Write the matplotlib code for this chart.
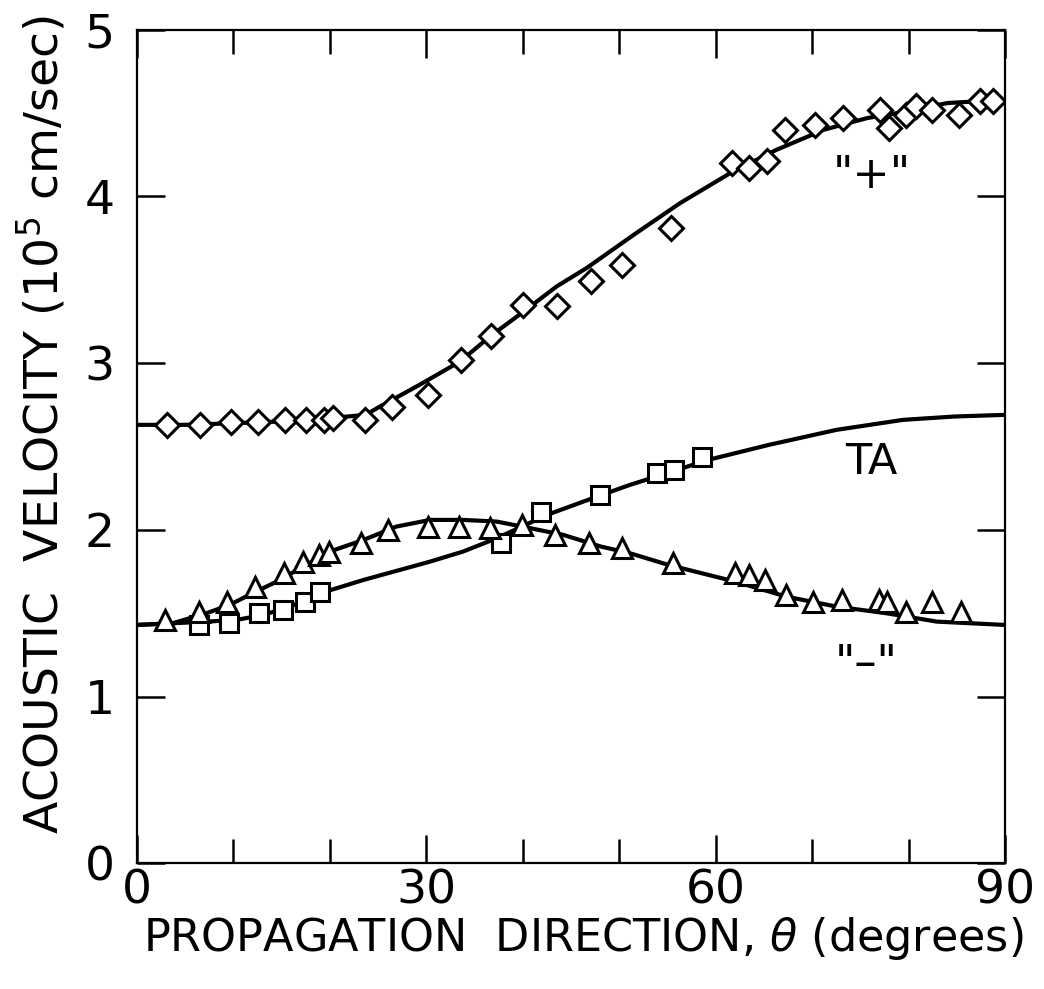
import matplotlib
matplotlib.use("Agg")
import matplotlib.pyplot as plt

plt.rcParams['font.family'] = ['DejaVu Sans']
plt.rcParams['mathtext.default'] = 'regular'

# measured points, theta in degrees, velocity in 1e5 cm/sec
plus_theta = [3.1, 6.6, 9.8, 12.6, 15.4, 17.5, 19.4, 20.3, 23.7, 26.4, 30.2, 33.6, 36.7, 40.0,
              43.5, 47.1, 50.3, 55.4, 61.7, 63.4, 65.3, 67.2, 70.3, 73.2, 77.0, 77.9, 79.7,
              80.7, 82.4, 85.2, 87.4, 88.7]
plus_vel = [2.63, 2.63, 2.65, 2.65, 2.66, 2.66, 2.66, 2.67, 2.66, 2.74, 2.81, 3.02, 3.16, 3.35,
            3.34, 3.49, 3.59, 3.81, 4.20, 4.17, 4.21, 4.40, 4.43, 4.47, 4.52, 4.41, 4.49,
            4.54, 4.52, 4.49, 4.57, 4.57]

ta_theta = [6.5, 9.6, 12.7, 15.2, 17.4, 19.0, 37.7, 41.9, 48.0, 53.9, 55.7, 58.6]
ta_vel = [1.43, 1.44, 1.50, 1.52, 1.57, 1.63, 1.92, 2.11, 2.21, 2.34, 2.36, 2.44]

minus_theta = [2.9, 6.5, 9.4, 12.3, 15.3, 17.2, 18.9, 19.9, 23.2, 26.0, 30.2, 33.4, 36.6, 39.9,
               43.3, 46.9, 50.3, 55.6, 62.0, 63.4, 65.1, 67.3, 70.1, 73.1, 76.9, 77.7, 79.7,
               82.4, 85.4]
minus_vel = [1.46, 1.51, 1.57, 1.66, 1.74, 1.81, 1.85, 1.87, 1.92, 2.00, 2.02, 2.02, 2.01, 2.03,
             1.97, 1.92, 1.89, 1.80, 1.74, 1.73, 1.70, 1.61, 1.57, 1.58, 1.58, 1.57, 1.51,
             1.57, 1.51]

# calculated curves
plus_curve_theta = [0, 5, 10, 15, 20, 23.7, 25.2, 29.3, 33.5, 36.6, 40.1, 43.5, 46.6, 51.5,
                    56.3, 61.5, 66.3, 71.2, 75.7, 78.8, 84.0, 90]
plus_curve_vel = [2.63, 2.63, 2.64, 2.65, 2.67, 2.69, 2.74, 2.87, 3.01, 3.16, 3.31, 3.46, 3.57,
                  3.77, 3.96, 4.14, 4.28, 4.40, 4.47, 4.50, 4.56, 4.58]

ta_curve_theta = [0, 3.7, 7.2, 10.3, 13.1, 15.9, 19.0, 23.5, 30.4, 33.8, 37.3, 42.5, 47.7, 51.1,
                  54.4, 59.2, 65.5, 72.5, 79.4, 84.7, 90]
ta_curve_vel = [1.43, 1.44, 1.45, 1.46, 1.49, 1.54, 1.62, 1.70, 1.81, 1.87, 1.95, 2.09, 2.20,
                2.27, 2.33, 2.42, 2.51, 2.60, 2.66, 2.68, 2.69]

minus_curve_theta = [0, 3.7, 7.2, 9.6, 12.0, 14.5, 20.0, 23.5, 26.9, 30.4, 33.8, 37.3, 40.8,
                     44.2, 48.1, 51.1, 55.1, 62.0, 67.3, 72.5, 77.7, 82.9, 90]
minus_curve_vel = [1.43, 1.44, 1.50, 1.55, 1.62, 1.69, 1.87, 1.94, 2.02, 2.06, 2.06, 2.05, 2.01,
                   1.97, 1.90, 1.86, 1.79, 1.69, 1.60, 1.54, 1.50, 1.45, 1.43]

x_major = [0, 30, 60, 90]
x_minor = [10, 20, 40, 50, 70, 80]
y_ticks = [0, 1, 2, 3, 4, 5]

fig = plt.figure(figsize=(10.44, 9.89), dpi=100)
ax = fig.add_axes([0.131, 0.127, 0.832, 0.843])

lw_curve = 3.0
ax.plot(plus_curve_theta, plus_curve_vel, color='black', lw=lw_curve, solid_joinstyle='round')
ax.plot(ta_curve_theta, ta_curve_vel, color='black', lw=lw_curve, solid_joinstyle='round')
ax.plot(minus_curve_theta, minus_curve_vel, color='black', lw=lw_curve, solid_joinstyle='round')

mk = dict(linestyle='none', markerfacecolor='white', markeredgecolor='black', markeredgewidth=2.2)
ax.plot(plus_theta, plus_vel, marker='D', markersize=12.5, **mk)
ax.plot(ta_theta, ta_vel, marker='s', markersize=13.5, **mk)
ax.plot(minus_theta, minus_vel, marker='^', markersize=14.5, **mk)

# curve labels
ax.text(76.2, 4.05, '"+"', fontsize=32, ha='center', va='baseline')
ax.text(76.1, 2.41, 'TA', fontsize=31, ha='center', va='center')
ax.text(75.6, 1.12, '"\u2013"', fontsize=32, ha='center', va='baseline')

ax.set_xlim(0, 90)
ax.set_ylim(0, 5)
ax.set_xticks(x_major)
ax.set_xticks(x_minor, minor=True)
ax.set_yticks(y_ticks)
ax.tick_params(which='both', direction='in', top=True, right=True, width=1.8, labelsize=34)
ax.tick_params(which='major', length=20)
ax.tick_params(which='minor', length=17)
ax.tick_params(axis='x', pad=4)
ax.tick_params(axis='y', pad=16)
for s in ax.spines.values():
    s.set_linewidth(1.6)

ax.set_xlabel(r'PROPAGATION  DIRECTION, $\mathit{\theta}$ (degrees)', fontsize=32)
ax.set_ylabel(r'ACOUSTIC  VELOCITY (10$^5$ cm/sec)', fontsize=34)
ax.xaxis.set_label_coords(0.514, -0.062)
ax.yaxis.set_label_coords(-0.079, 0.526)

fig.savefig('out.png', dpi=100)
